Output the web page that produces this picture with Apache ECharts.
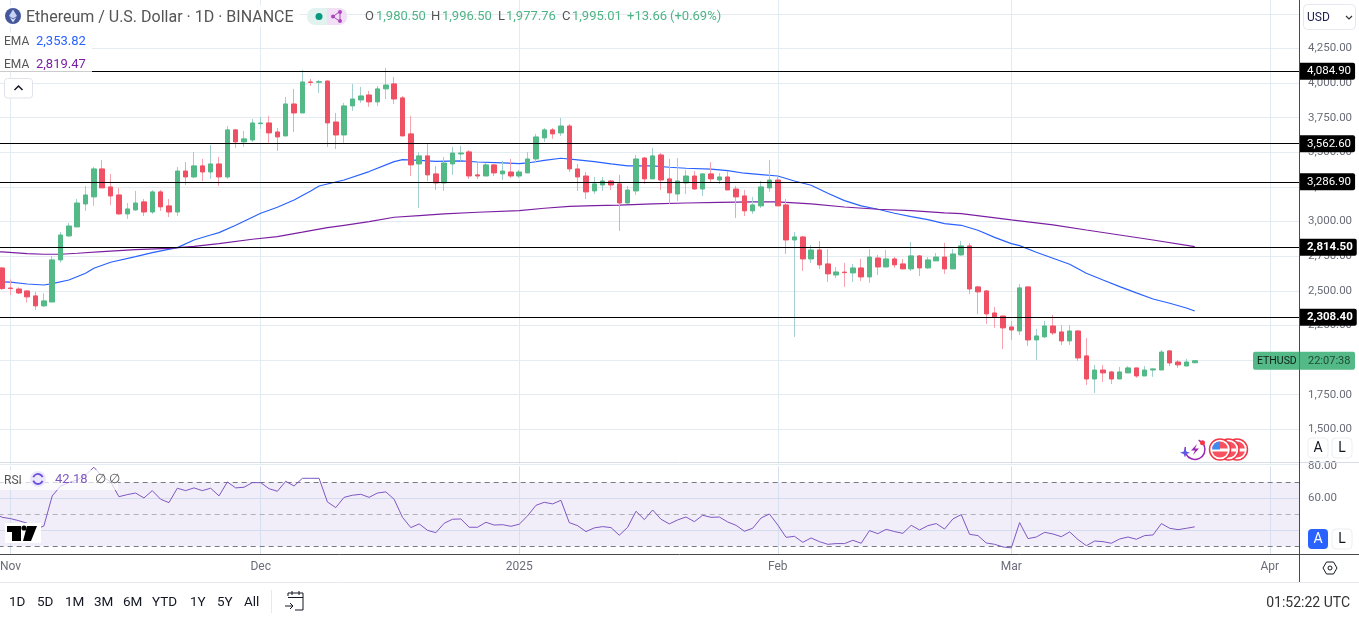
<!DOCTYPE html>
<html>
<head>
<meta charset="utf-8">
<style>html,body{margin:0;padding:0;background:#fff;overflow:hidden}#c{width:1359px;height:619px}</style>
<script src="https://cdn.jsdelivr.net/npm/echarts@6/dist/echarts.min.js"></script>
</head>
<body>
<div id="c"></div>
<script>
// Daily candles: Oct 31, Nov 1-30, Dec 1-31, Jan 1-31, Feb 1-28, Mar 1-23
const opens = [2665,
 2520,2513,2499,2463,2391,2419,2723,2896,2961,3127,3178,3380,3250,3192,3055,3084,3142,3069,3214,3113,3069,3365,3322,3402,3358,3416,3322,3662,3575,3589,
 3707,3712,3647,3618,3849,3784,4008,4006,4015,3719,3625,3835,3878,3914,3864,3958,3994,3893,3633,3416,3474,3344,3279,3416,3488,3503,3337,3329,3409,3344,3358,
 3329,3351,3452,3604,3662,3640,3690,3380,3329,3221,3264,3293,3272,3134,3221,3459,3308,3481,3308,3199,3279,3329,3235,3344,3300,3322,3235,3185,3077,3113,3243,
 3300,3120,2867,2889,2730,2795,2694,2614,2635,2629,2665,2600,2737,2672,2730,2694,2658,2752,2665,2716,2744,2658,2759,2824,2528,2499,2340,2318,
 2239,2210,2528,2145,2167,2246,2203,2138,2210,2030,1863,1928,1914,1863,1907,1943,1885,1928,1928,2066,1986,1957,1980.5];
const closes = [2516,
 2516,2484,2456,2391,2427,2723,2903,2968,3134,3192,3380,3243,3185,3055,3091,3134,3069,3214,3106,3069,3365,3322,3402,3358,3416,3322,3662,3575,3597,3712,
 3712,3640,3611,3849,3784,4008,4005,4010,3712,3625,3835,3885,3907,3864,3958,3986,3885,3618,3409,3474,3337,3279,3423,3495,3495,3329,3329,3409,3351,3365,3329,
 3358,3452,3611,3662,3633,3690,3380,3322,3214,3272,3293,3264,3134,3228,3452,3308,3474,3300,3207,3293,3329,3235,3344,3308,3322,3228,3178,3077,3120,3250,3300,
 3113,2867,2889,2730,2795,2687,2622,2636,2631,2665,2600,2744,2672,2730,2687,2658,2752,2665,2723,2744,2658,2766,2824,2513,2492,2333,2311,2232,
 2217,2521,2145,2174,2246,2196,2138,2210,2015,1863,1928,1907,1863,1914,1943,1885,1928,1936,2058,1979,1965,1986,1995.01];
const highs = [2670,
 2583,2525,2503,2492,2482,2752,2925,2990,3163,3257,3394,3445,3344,3243,3134,3221,3163,3228,3228,3163,3394,3430,3503,3452,3553,3467,3690,3669,3654,3741,
 3755,3763,3676,3900,3958,4095,4030,4023,4018,3784,3857,3994,3972,3943,3979,4109,4044,3907,3763,3503,3560,3402,3467,3539,3546,3517,3430,3423,3416,3438,3452,
 3373,3503,3633,3676,3676,3748,3705,3416,3358,3322,3322,3300,3337,3257,3481,3467,3532,3495,3452,3459,3373,3365,3351,3430,3351,3365,3257,3228,3178,3293,3445,
 3329,3163,2925,2896,2831,2860,2802,2672,2701,2694,2730,2802,2759,2795,2744,2730,2853,2759,2744,2773,2846,2802,2860,2846,2535,2506,2383,2320,
 2282,2549,2530,2225,2282,2326,2253,2253,2217,2160,1965,1965,1921,1950,1957,1945,1957,1938,2073,2073,2001,2008,1996.5];
const lows = [2506,
 2470,2477,2415,2362,2383,2419,2704,2889,2961,3077,3113,3243,3120,3048,3019,3077,3040,3055,3077,3033,3040,3264,3315,3293,3308,3257,3308,3532,3539,3575,
 3669,3568,3510,3618,3647,3784,3979,3929,3539,3524,3568,3799,3857,3828,3835,3885,3849,3618,3329,3098,3293,3228,3221,3337,3438,3308,3308,3329,3329,3300,3315,
 3315,3351,3430,3575,3597,3618,3358,3221,3163,3199,3221,3228,2932,3127,3192,3272,3308,3228,3127,3149,3199,3228,3185,3279,3272,3228,3026,3040,3055,3098,3214,
 3113,2766,2167,2643,2701,2658,2564,2593,2528,2564,2571,2557,2614,2672,2665,2658,2643,2607,2658,2716,2622,2658,2752,2477,2333,2261,2232,2080,
 2145,2181,2102,2001,2160,2181,2109,2109,1993,1820,1762,1842,1827,1863,1907,1871,1885,1878,1928,1957,1943,1957,1977.76];
// RSI from Oct 30 to Mar 23
const rsiValues = [51,48.1,
 47.3,46,44.4,40.6,42.7,61.5,67.7,69.8,71.5,74.6,79.4,73.5,70.4,61,62.3,63.3,60.2,64.8,59.4,57.3,66.3,64.8,66.5,64.8,66.3,61.5,70.2,66.5,66.9,69.8,
 69.8,66,64.4,70.6,67.7,72.5,72.5,72.5,57.7,54.2,60.6,61.9,62.5,60.6,63.3,64,59.4,48.1,41.7,44,40,38.5,44.4,46.9,47.1,41.9,41.9,45,43.3,43.5,42.5,
 43.8,49,55.6,57.5,56.5,58.75,44.8,42.9,39.2,41.5,42.3,41.7,36.9,41.9,51.9,46.7,52.7,46.9,44,46.5,48.3,45.4,49.4,48.1,48.3,45.2,43.1,39.4,41.3,47.7,50.2,
 43.3,35.6,36.25,32.5,35.2,32.9,31.25,31.7,31.7,33.75,31.9,39.8,37.9,40.6,39.2,38.1,43.1,40.2,42.9,44.2,40.8,47.1,49.8,37.5,36.7,32.1,31.25,29.6,
 29,44.8,34.8,35.8,38.75,37.7,36,39,34.2,30.4,33.3,32.9,31.9,34.6,35.8,34.4,36.7,37.1,44.2,41.25,40.4,41.25,42.18];
const emaFast = [["10-30",2566],["10-31",2564],["11-01",2562],["11-03",2549],["11-05",2542],["11-06",2552],["11-08",2578],["11-10",2627],["11-11",2663],["11-13",2706],["11-16",2747],["11-18",2776],["11-21",2812],["11-23",2867],["11-25",2903],["11-26",2920],["11-28",2973],["11-30",3031],
 ["12-01",3060],["12-03",3103],["12-05",3156],["12-07",3221],["12-08",3257],["12-11",3300],["12-14",3361],["12-17",3433],["12-18",3447],["12-20",3442],["12-22",3435],["12-25",3438],["12-27",3430],["12-30",3423],
 ["01-01",3418],["01-02",3423],["01-04",3442],["01-06",3457],["01-08",3445],["01-10",3433],["01-12",3416],["01-14",3402],["01-17",3402],["01-19",3392],["01-21",3385],["01-24",3378],["01-26",3368],["01-28",3349],["01-30",3339],
 ["02-01",3329],["02-03",3293],["02-05",3262],["02-07",3204],["02-09",3151],["02-11",3113],["02-13",3089],["02-15",3060],["02-17",3036],["02-19",3014],["02-21",2985],["02-23",2973],["02-25",2937],["02-27",2886],
 ["03-01",2841],["03-02",2826],["03-04",2778],["03-06",2735],["03-08",2692],["03-10",2627],["03-12",2578],["03-14",2530],["03-16",2485],["03-18",2441],["03-20",2410],["03-22",2376],["03-23",2353.82]];
const emaSlow = [["10-30",2783],["10-31",2781],["11-03",2769],["11-05",2764],["11-07",2764],["11-09",2771],["11-12",2783],["11-16",2797],["11-20",2807],["11-23",2821],["11-26",2841],["11-30",2872],
 ["12-03",2891],["12-06",2923],["12-09",2956],["12-11",2973],["12-14",2999],["12-17",3031],["12-20",3043],["12-23",3055],["12-27",3067],
 ["01-01",3079],["01-04",3096],["01-07",3110],["01-10",3115],["01-13",3118],["01-17",3127],["01-21",3134],["01-25",3139],["01-29",3142],
 ["02-01",3142],["02-05",3127],["02-09",3105],["02-13",3089],["02-17",3079],["02-21",3062],["02-23",3057],
 ["03-01",3012],["03-06",2976],["03-10",2939],["03-14",2903],["03-18",2867],["03-23",2819.47]];
const levels = [4084.9,3562.6,3286.9,2814.5,2308.4];
const monthTicks = {"11-01":"Nov","12-01":"Dec","01-01":"2025","02-01":"Feb","03-01":"Mar","04-01":"Apr"};
const rangeButtons = ["1D","5D","1M","3M","6M","YTD","1Y","5Y","All"];

const categories = [];
for (let t = Date.UTC(2024,9,30), i = 0; i < 157; i++, t += 864e5) {
  const dt = new Date(t);
  categories.push(String(dt.getUTCMonth()+1).padStart(2,'0') + '-' + String(dt.getUTCDate()).padStart(2,'0'));
}
const candleDays = opens.map((_, i) => categories[i+1]);
const FONT = 'Roboto, sans-serif';
const UP='#53b987', DOWN='#ef5064', UPW='#a3cfd0', DOWNW='#f7a2af';
const fmt2 = v => v.toLocaleString('en-US',{minimumFractionDigits:2,maximumFractionDigits:2});
const months = Object.keys(monthTicks);

const chart = echarts.init(document.getElementById('c'), null, {renderer:'canvas'});
chart.setOption({
  animation:false,
  backgroundColor:'#fff',
  grid:[
    {left:-10.34,width:1309.34,top:-20.8,height:484.7,outerBoundsMode:'none'},
    {left:-10.34,width:1309.34,top:466.3,height:88,outerBoundsMode:'none'}
  ],
  xAxis:[
    {type:'category',gridIndex:0,data:categories,axisLine:{show:false},axisTick:{show:false},axisLabel:{show:false},splitLine:{show:false}},
    {type:'category',gridIndex:1,data:categories,axisLine:{show:false},axisTick:{show:false},splitLine:{show:false},
     axisLabel:{interval:(i,v)=>!!monthTicks[v],formatter:v=>monthTicks[v]||'',color:'#6a6d78',fontFamily:FONT,fontSize:12,margin:7}}
  ],
  yAxis:[
    {type:'value',gridIndex:0,position:'right',min:1250,max:4750,interval:250,axisLine:{show:false},axisTick:{show:false},
     splitLine:{lineStyle:{color:'#e4ecf2',width:1}},
     axisLabel:{color:'#6a6d78',fontFamily:FONT,fontSize:11.5,margin:9,formatter:v=>(v===1250||v===4750)?'':fmt2(v)}},
    {type:'value',gridIndex:1,position:'right',min:25,max:80,interval:5,axisLine:{show:false},axisTick:{show:false},splitLine:{show:false},
     axisLabel:{color:'#6a6d78',fontFamily:FONT,fontSize:11.5,margin:9,padding:[4,0,0,0],formatter:v=>(v===80||v===60)?fmt2(v):''}}
  ],
  series:[
    {name:'EMA fast',type:'line',xAxisIndex:0,yAxisIndex:0,data:emaFast,showSymbol:false,z:1,silent:true,
     lineStyle:{color:'#2962ff',width:1.2},
     markLine:{z:0,silent:true,symbol:'none',animation:false,label:{show:false},lineStyle:{color:'#e1ecf2',width:1,type:'solid'},
       data:months.map(m=>({xAxis:m}))}},
    {name:'EMA slow',type:'line',xAxisIndex:0,yAxisIndex:0,data:emaSlow,showSymbol:false,z:1,silent:true,
     lineStyle:{color:'#7b1fa2',width:1.2}},
    {name:'wicks',type:'candlestick',xAxisIndex:0,yAxisIndex:0,z:2,silent:true,barWidth:1,
     data:opens.map((o,i)=>[candleDays[i],o,closes[i],lows[i],highs[i]]),
     encode:{x:0,y:[1,2,3,4]},
     itemStyle:{color:UPW,color0:DOWNW,borderColor:UPW,borderColor0:DOWNW,borderWidth:1}},
    {name:'bodies',type:'candlestick',xAxisIndex:0,yAxisIndex:0,z:3,silent:true,barWidth:5,
     data:opens.map((o,i)=>[candleDays[i],o,closes[i],Math.min(o,closes[i]),Math.max(o,closes[i])]),
     encode:{x:0,y:[1,2,3,4]},
     itemStyle:{color:UP,color0:DOWN,borderColor:UP,borderColor0:DOWN,borderWidth:1},
     markLine:{z:5,silent:true,symbol:'none',animation:false,lineStyle:{color:'#000',width:1,type:'solid'},
       data:levels.map((v,i)=>({yAxis:v,label:{fontWeight:i>=3?'bold':'normal'}})),
       label:{show:true,position:'end',distance:0,formatter:p=>fmt2(p.value),backgroundColor:'#000',color:'#fff',fontFamily:FONT,fontSize:11.5,padding:[3,4,2,8],borderRadius:[0,2,2,0]}}},
    {name:'RSI',type:'line',xAxisIndex:1,yAxisIndex:1,data:rsiValues.map((v,i)=>[categories[i],v]),showSymbol:false,z:3,silent:true,
     lineStyle:{color:'#7e57c2',width:1},
     markArea:{silent:true,itemStyle:{color:'rgba(126,87,194,0.1)'},data:[[{yAxis:70},{yAxis:30}]]},
     markLine:{silent:true,symbol:'none',animation:false,label:{show:false},z:1,
       data:[
        ...months.map(m=>({xAxis:m,lineStyle:{color:'#d6e0ee',width:1,type:'solid'}})),
        ...[60,40].map(v=>({yAxis:v,lineStyle:{color:'#d6dcef',width:1,type:'solid'}})),
        ...[70,30].map(v=>({yAxis:v,lineStyle:{color:'#787b86',width:1,type:[5,4]}})),
        {yAxis:50,lineStyle:{color:'#b0b2ba',width:1,type:[5,4]}}
       ]}}
  ]
});

// Chrome around the plot
const Z=100, els=[];
const txt=(x,y,t,c,s,a,w)=>els.push({type:'text',z:Z+2,silent:true,style:{x,y,text:t,fill:c,font:(w||'normal')+' '+(s||12)+'px '+FONT,align:a||'left',verticalAlign:'middle'}});
const rect=(x,y,w,h,f,st,r,zz)=>els.push({type:'rect',z:zz||Z,silent:true,shape:{x,y,width:w,height:h,r:r||0},style:{fill:f||'none',stroke:st||'none',lineWidth:1}});
const line=(x1,y1,x2,y2,c,lw)=>els.push({type:'line',z:Z+1,silent:true,shape:{x1,y1,x2,y2},style:{stroke:c,lineWidth:lw||1}});
const circ=(x,y,r,f,st,lw,zz)=>els.push({type:'circle',z:zz||Z+1,silent:true,shape:{cx:x,cy:y,r},style:{fill:f||'none',stroke:st||'none',lineWidth:lw||1}});
const poly=(p,f,st)=>els.push({type:'polygon',z:Z+1,silent:true,shape:{points:p},style:{fill:f||'none',stroke:st||'none',lineWidth:1}});
const pl=(p,c,lw)=>els.push({type:'polyline',z:Z+1,silent:true,shape:{points:p},style:{stroke:c,fill:'none',lineWidth:lw||1}});

// frame lines
line(0,462.5,1359,462.5,'#d5dee8');
line(0,554.5,1359,554.5,'#4a4a4a');
line(1299.5,0,1299.5,582,'#4a4a4a');
line(0,582.5,1359,582.5,'#e6e8ee');
line(271.5,590,271.5,613,'#e6e8ee');

// header legend
rect(0,5,300,22,'rgba(255,255,255,0.75)');
circ(13,16,8,'#44579c');
poly([[13,9.5],[17,16],[13,18.5],[9,16]],'#c7d3f5');
poly([[13,19.5],[16.5,17],[13,22.5],[9.5,17]],'#dfe6fb');
txt(26,17.5,'Ethereum / U.S. Dollar · 1D · BINANCE','#555',16);
rect(307,8,40,17,'#e2f3ef',null,8);
rect(327,8,20,17,'#f3dff5',null,[0,8,8,0],Z+0);
circ(319,16.5,3.5,'#089981');
poly([[340,11.5],[333,16.5],[340,21.5]],null,'#ab47bc');
circ(340,12,2,'#ab47bc'); circ(333,16.5,2,'#ab47bc'); circ(340,21,2,'#ab47bc');
const G='#4fb485';
txt(365,16.5,'O','#555',13); txt(376,16.5,'1,980.50',G,13);
txt(431,16.5,'H','#555',13); txt(442,16.5,'1,996.50',G,13);
txt(498,16.5,'L','#555',13); txt(506,16.5,'1,977.76',G,13);
txt(562,16.5,'C','#555',13); txt(572,16.5,'1,995.01',G,13);
txt(627,16.5,'+13.66',G,13); txt(670,16.5,'(+0.69%)',G,13);
rect(0,32,92,19,'rgba(255,255,255,0.8)');
rect(0,55,92,17,'rgba(255,255,255,0.8)');
txt(4,42,'EMA','#555',12); txt(36,42,'2,353.82','#2962ff',13);
txt(4,65,'EMA','#555',12); txt(36,65,'2,819.47','#7b1fa2',13);
rect(4.5,78.5,28,19.5,'#fff','#e0e3eb',3);
pl([[14.5,90],[18.5,86],[22.5,90]],'#131722',1.5);

// USD selector & scale buttons
rect(1303.5,4.5,52,25,'#fff','#e6e8ee',4);
txt(1307,17.5,'USD','#1f1f4d',12);
pl([[1346,16],[1349,19],[1352,16]],'#333',1.2);
function scaleBtn(x,y,active,t){rect(x,y,20,20,active?'#2962ff':'#fff',active?null:'#eceef2',4);txt(x+10,y+10.5,t,active?'#fff':'#131722',14,'center');}
scaleBtn(1308,438,false,'A');scaleBtn(1332,438,false,'L');
scaleBtn(1308,529,true,'A');scaleBtn(1332,529,false,'L');

// gear hexagon
poly([[1323,568],[1326.5,562],[1333.5,562],[1337,568],[1333.5,574],[1326.5,574]],null,'#131722');
circ(1330,568,2,null,'#131722');

// event icons
els.push({type:'arc',z:Z+1,silent:true,shape:{cx:1195,cy:449.5,r:10,startAngle:-1.2,endAngle:3.4},style:{stroke:'#9c27b0',fill:'none',lineWidth:1.5}});
poly([[1197,444],[1191,450.5],[1195,450.5],[1193,455],[1199,448.5],[1195,448.5]],'#9c27b0');
poly([[1185,448],[1186.3,451.4],[1190,452.7],[1186.3,454],[1185,457.4],[1183.7,454],[1180,452.7],[1183.7,451.4]],'#5b5be6');
circ(1202.5,442.7,2.5,'#f23645');
[1237,1228.5,1220].forEach((cx,k)=>{
  const cy=449.5, zz=Z+3+k;
  circ(cx,cy,10.5,'#fff','#f23645',1.5,zz);
  circ(cx,cy,8,'#f7525f',null,1,zz);
  els.push({type:'rect',z:zz,silent:true,shape:{x:cx-8,y:cy-1,width:16,height:3},style:{fill:'#fff'}});
  els.push({type:'sector',z:zz,silent:true,shape:{cx,cy,r:8,r0:0,startAngle:Math.PI,endAngle:1.5*Math.PI},style:{fill:'#3d8bf2'}});
});

// RSI legend
rect(0,470,118,20,'rgba(255,255,255,0.7)');
txt(4,480.5,'RSI','#555',12);
circ(38,479,8,'#ece8fb');
els.push({type:'arc',z:Z+2,silent:true,shape:{cx:38,cy:479,r:5,startAngle:0.4,endAngle:2.8},style:{stroke:'#6d4fe0',fill:'none',lineWidth:1.8}});
els.push({type:'arc',z:Z+2,silent:true,shape:{cx:38,cy:479,r:5,startAngle:3.5,endAngle:5.9},style:{stroke:'#6d4fe0',fill:'none',lineWidth:1.8}});
txt(55,480,'42.18','#7e57c2',13);
txt(95,480,'∅','#555',13); txt(109,480,'∅','#555',13);

// TradingView mark
rect(5,523,36,20,'#fff');
poly([[7,526],[21,526],[21,541],[12,541],[12,532],[7,532]],'#000');
circ(24,528,2.6,'#000');
poly([[27,526],[37,526],[31,541],[23,541]],'#000');

// range bar
const rx=[9,37,65,94,123,152,190,217,244];
rangeButtons.forEach((t,i)=>txt(rx[i],603,t,'#131722',13.5));
pl([[288,596],[288,593],[303,593],[303,610],[295,610]],'#131722',1);
line(288,597.5,303,597.5,'#131722');
line(292,591,292,595,'#131722'); line(299,591,299,595,'#131722');
pl([[285,606],[293,606]],'#131722',1); pl([[290,603],[293,606],[290,609]],'#131722',1);
txt(1350,603,'01:52:22 UTC','#333',14,'right');

// live price tag follows the last close
const tagY = chart.convertToPixel({yAxisIndex:0}, closes[closes.length-1]);
rect(1253,tagY-9,102,18,'#53b987',null,2,Z+5);
els.push({type:'line',z:Z+6,silent:true,shape:{x1:1299.5,y1:tagY-9,x2:1299.5,y2:tagY+9},style:{stroke:'#4a7a63'}});
els.push({type:'text',z:Z+6,silent:true,style:{x:1257,y:tagY+.5,text:'ETHUSD',fill:'#102018',font:'10.5px '+FONT,verticalAlign:'middle'}});
els.push({type:'text',z:Z+6,silent:true,style:{x:1308,y:tagY+.5,text:'22:07:38',fill:'#1f4a36',font:'11px '+FONT,verticalAlign:'middle'}});

chart.setOption({graphic:{elements:els}});
</script>
</body>
</html>
